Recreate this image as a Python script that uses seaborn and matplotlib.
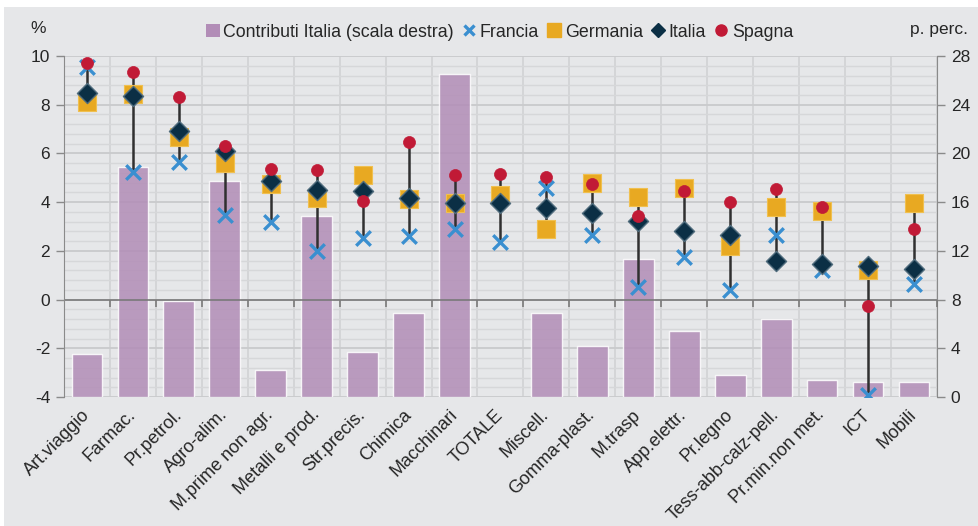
import matplotlib
matplotlib.use('Agg')
import matplotlib.pyplot as plt
from matplotlib.ticker import MultipleLocator
from matplotlib.patches import Rectangle
from matplotlib.lines import Line2D
import numpy as np
import pandas as pd
import seaborn as sns

# Dati (lettura dal grafico)
settori = ['Art.viaggio', 'Farmac.', 'Pr.petrol.', 'Agro-alim.', 'M.prime non agr.',
           'Metalli e prod.', 'Str.precis.', 'Chimica', 'Macchinari', 'TOTALE',
           'Miscell.', 'Gomma-plast.', 'M.trasp', 'App.elettr.', 'Pr.legno',
           'Tess-abb-calz-pell.', 'Pr.min.non met.', 'ICT', 'Mobili']

contributi_italia = [3.5, 18.9, 7.9, 17.7, 2.2, 14.9, 3.7, 6.9, 26.5, np.nan,
                     6.9, 4.2, 11.3, 5.4, 1.8, 6.4, 1.4, 1.2, 1.2]
francia = [9.56, 5.22, 5.63, 3.47, 3.17, 1.99, 2.54, 2.62, 2.88, 2.37,
           4.59, 2.65, 0.52, 1.76, 0.38, 2.65, 1.21, -3.92, 0.62]
germania = [8.12, 8.43, 6.69, 5.62, 4.73, 4.16, 5.11, 4.15, 3.95, 4.30,
            2.88, 4.77, 4.22, 4.57, 2.20, 3.79, 3.63, 1.21, 3.95]
italia = [8.47, 8.35, 6.93, 6.11, 4.87, 4.50, 4.47, 4.16, 3.98, 3.95,
          3.74, 3.54, 3.22, 2.83, 2.65, 1.59, 1.48, 1.38, 1.27]
spagna = [9.70, 9.33, 8.32, 6.32, 5.36, 5.32, 4.05, 6.47, 5.13, 5.17,
          5.03, 4.73, 3.44, 4.45, 4.02, 4.56, 3.81, -0.26, 2.90]

sns.set_style('white')
plt.rcParams['font.family'] = ['Liberation Sans', 'DejaVu Sans']
plt.rcParams['axes.unicode_minus'] = False

SFONDO = '#e6e7e9'
C_BAR = '#b28db7'
C_FRA = '#3a8fd0'
C_GER = '#e8a922'
C_ITA = '#0b2f45'
C_SPA = '#c11a36'
C_AX = '#8a8a8a'

df = pd.DataFrame({'settore': settori, 'contrib': contributi_italia,
                   'Francia': francia, 'Germania': germania,
                   'Italia': italia, 'Spagna': spagna})
x = np.arange(len(settori))

fig = plt.figure(figsize=(9.79, 5.26), dpi=100, facecolor=SFONDO)
# bordo bianco in alto / a sinistra come nell'originale
fig.patches.append(Rectangle((0, 0.987), 1, 0.02, transform=fig.transFigure,
                             facecolor='white', edgecolor='none', zorder=-1))
fig.patches.append(Rectangle((0, 0), 0.004, 1, transform=fig.transFigure,
                             facecolor='white', edgecolor='none', zorder=-1))

ax = fig.add_axes([0.0654, 0.2452, 0.8916, 0.6483])
ax2 = ax.twinx()
ax.set_zorder(ax2.get_zorder() + 1)
ax.patch.set_visible(False)

# barre (scala destra)
sns.barplot(data=df, x='settore', y='contrib', ax=ax2, color=C_BAR,
            width=0.67, alpha=0.85, saturation=1, zorder=2)
ax2.set_ylim(0, 28)
ax2.yaxis.set_major_locator(MultipleLocator(4))
ax2.yaxis.set_minor_locator(MultipleLocator(0.8))
ax2.set_axisbelow(True)
ax2.grid(which='major', axis='y', color='#c9cacc', lw=1.3, zorder=0)
ax2.grid(which='minor', axis='y', color='#d6d7d9', lw=1.0, zorder=0)
for b in np.arange(-0.5, len(settori)):
    ax2.axvline(b, color='#cfd0d2', lw=1.1, zorder=0)
ax2.set_ylabel('')
ax2.set_xlabel('')

ax.set_xlim(-0.5, len(settori) - 0.5)
ax.set_ylim(-4, 10)
ax.yaxis.set_major_locator(MultipleLocator(2))

# linee min-max
lo = df[['Francia', 'Germania', 'Italia', 'Spagna']].min(axis=1)
hi = df[['Francia', 'Germania', 'Italia', 'Spagna']].max(axis=1)
ax.vlines(x, lo, hi, color='#303030', lw=1.8, zorder=3)

ax.axhline(0, color='#7a7a7a', lw=1.2, zorder=2.5)
ax.plot(np.arange(-0.5, len(settori)), np.zeros(len(settori) + 1), ls='none',
        marker=3, ms=5, mew=1.2, color='#7a7a7a', zorder=2.5)

sns.scatterplot(x=x, y=francia, ax=ax, marker='x', s=110, color=C_FRA,
                linewidth=2.4, zorder=4)
sns.scatterplot(x=x, y=germania, ax=ax, marker='s', s=170, color=C_GER,
                edgecolor='#f0c050', linewidth=0.8, zorder=5)
sns.scatterplot(x=x, y=italia, ax=ax, marker='D', s=105, color=C_ITA,
                edgecolor='#4f6b7c', linewidth=1.0, zorder=6)
sns.scatterplot(x=x, y=spagna, ax=ax, marker='o', s=75, color=C_SPA,
                edgecolor=C_SPA, linewidth=0.5, zorder=7)

ax.set_xticks(x)
ax.set_xticklabels(settori, rotation=45, ha='right', va='center',
                   rotation_mode='anchor', fontsize=13)
ax.tick_params(axis='x', length=0, pad=11)
ax.tick_params(axis='y', length=6, width=1, color=C_AX, labelsize=12.5, pad=4,
               direction='out')
ax2.tick_params(axis='y', length=6, width=1, color=C_AX, labelsize=12.5, pad=4,
                direction='out')
ax2.tick_params(axis='y', which='minor', length=0)
ax2.tick_params(axis='x', length=0)

for a in (ax, ax2):
    for s in a.spines.values():
        s.set_visible(False)
ax.spines['left'].set_visible(True)
ax.spines['left'].set_color(C_AX)
ax2.spines['right'].set_visible(True)
ax2.spines['right'].set_color(C_AX)

fig.text(0.039, 0.946, '%', fontsize=12.5, ha='center', va='center')
fig.text(0.989, 0.943, 'p. perc.', fontsize=12.5, ha='right', va='center')

handles = [
    Rectangle((0, 0), 1, 1, facecolor=C_BAR, edgecolor='none'),
    Line2D([], [], ls='none', marker='x', ms=7, mew=2.4, color=C_FRA),
    Line2D([], [], ls='none', marker='s', ms=10, color=C_GER),
    Line2D([], [], ls='none', marker='D', ms=7, color=C_ITA),
    Line2D([], [], ls='none', marker='o', ms=8, color=C_SPA),
]
labels = ['Contributi Italia (scala destra)', 'Francia', 'Germania', 'Italia', 'Spagna']
fig.legend(handles, labels, loc='center', bbox_to_anchor=(0.510, 0.939), ncol=5,
           frameon=False, fontsize=12.8, handlelength=0.8, handleheight=0.8,
           handletextpad=0.2, columnspacing=0.45)

fig.savefig('out.png', dpi=100, facecolor=SFONDO)
